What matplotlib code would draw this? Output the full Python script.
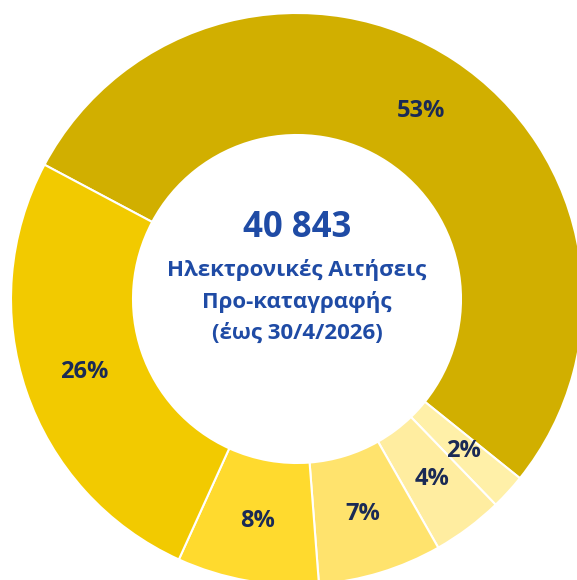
import matplotlib
matplotlib.use("Agg")
import matplotlib.pyplot as plt
from matplotlib import font_manager as fm
import numpy as np

# share of pre-registration applications, clockwise from the largest slice
shares = [53, 2, 4, 7, 8, 26]
colors = ["#D1AF00", "#FFF0A8", "#FFEDA0", "#FFE36D", "#FFDA2E", "#F2CA00"]

total_label = "40 843"
center_lines = ["Ηλεκτρονικές Αιτήσεις", "Προ-καταγραφής", "(έως 30/4/2026)"]

plt.rcParams["font.family"] = ["Open Sans", "Noto Sans", "DejaVu Sans"]

# use the static bold face rather than the variable one
bold_files = [f.fname for f in fm.fontManager.ttflist
              if f.fname.endswith("OpenSans-Bold.ttf")]
if bold_files:
    def bold(size):
        return fm.FontProperties(fname=bold_files[0], size=size)
else:
    def bold(size):
        return fm.FontProperties(family=["Noto Sans", "DejaVu Sans"],
                                 weight="bold", size=size)

W, H = 577, 580
cx, cy = 297, 299
r_out, r_in = 286, 164

fig = plt.figure(figsize=(W / 100, H / 100), dpi=100)
ax = fig.add_axes([0, 0, 1, 1])
ax.axis("off")

wedges, _ = ax.pie(
    shares,
    colors=colors,
    radius=r_out,
    startangle=152,
    counterclock=False,
    wedgeprops=dict(width=r_out - r_in, edgecolor="white", linewidth=1.5),
)

# percentage labels in the middle of the ring
r_mid = (r_out + r_in) / 2
for w, s in zip(wedges, shares):
    ang = np.deg2rad((w.theta1 + w.theta2) / 2)
    ax.text(r_mid * np.cos(ang), r_mid * np.sin(ang), f"{s}%",
            ha="center", va="center", color="#1A2A55", fontproperties=bold(17))

ax.set_xlim(-cx, W - cx)
ax.set_ylim(-(H - cy), cy)
ax.set_aspect("equal")

blue = "#1F4BA5"
ax.text(0, cy - 228, total_label, ha="center", va="center",
        color=blue, fontproperties=bold(25))
for y, line in zip([270, 302, 333], center_lines):
    ax.text(0, cy - y, line, ha="center", va="center",
            color=blue, fontproperties=bold(16))

fig.savefig("out.png", dpi=100)
